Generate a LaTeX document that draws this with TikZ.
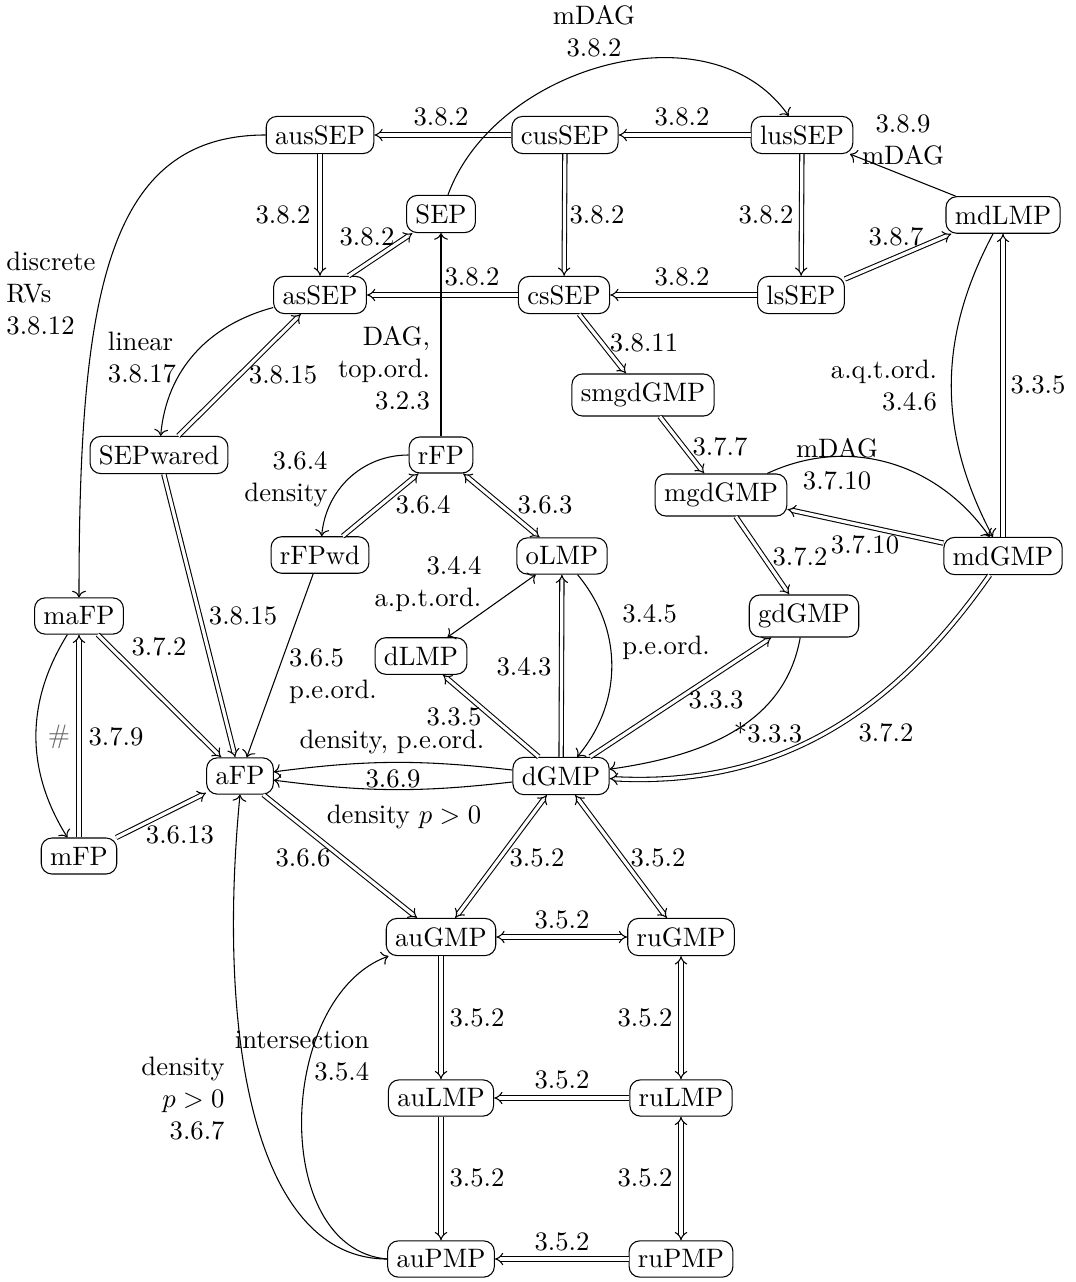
\documentclass[tikz,border=0pt]{standalone}
\usetikzlibrary{arrows.meta}
\begin{document}
\begin{tikzpicture}[x=0.375pt,y=0.375pt,
  box/.style={draw, rounded corners=4pt, inner sep=3.33pt},
  imp/.style={double, double distance=1.2pt, -Implies},
  impb/.style={double, double distance=1.2pt, Implies-Implies},
  lbl/.style={inner sep=0pt}]
\useasboundingbox (0,0) rectangle (1075,-1282);
% nodes
\node[box] (ausSEP) at (320,-135) {ausSEP};
\node[box] (cusSEP) at (565,-135) {cusSEP};
\node[box] (lusSEP) at (802,-135) {lusSEP};
\node[box] (SEP) at (441,-214) {SEP};
\node[box] (mdLMP) at (1003,-215) {mdLMP};
\node[box] (asSEP) at (320,-295) {asSEP};
\node[box] (csSEP) at (564,-295) {csSEP};
\node[box] (lsSEP) at (801,-295) {lsSEP};
\node[box] (smgdGMP) at (643,-395) {smgdGMP};
\node[box] (SEPwared) at (159,-455) {SEPwared};
\node[box] (rFP) at (441,-455) {rFP};
\node[box] (mgdGMP) at (721,-495) {mgdGMP};
\node[box] (rFPwd) at (320,-555) {rFPwd};
\node[box] (oLMP) at (562,-556) {oLMP};
\node[box] (mdGMP) at (1003,-556) {mdGMP};
\node[box] (maFP) at (79,-616) {maFP};
\node[box] (gdGMP) at (804,-616) {gdGMP};
\node[box] (dLMP) at (421,-656) {dLMP};
\node[box] (aFP) at (240,-776) {aFP};
\node[box] (dGMP) at (561,-776) {dGMP};
\node[box] (mFP) at (79,-856) {mFP};
\node[box] (auGMP) at (441,-937) {auGMP};
\node[box] (ruGMP) at (681,-937) {ruGMP};
\node[box] (auLMP) at (441,-1098) {auLMP};
\node[box] (ruLMP) at (681,-1098) {ruLMP};
\node[box] (auPMP) at (441,-1259) {auPMP};
\node[box] (ruPMP) at (681,-1259) {ruPMP};
% connectors
\draw[imp] (cusSEP) -- (ausSEP);
\draw[imp] (lusSEP) -- (cusSEP);
\draw[imp] (ausSEP) -- (asSEP);
\draw[imp] (cusSEP) -- (csSEP);
\draw[imp] (lusSEP) -- (lsSEP);
\draw[imp] (csSEP) -- (asSEP);
\draw[imp] (lsSEP) -- (csSEP);
\draw[imp] (asSEP) -- (SEP);
\draw[->] (rFP) -- (SEP);
\draw[->] (SEP) to[out=70,in=125] (lusSEP);
\draw[->] (mdLMP) -- (lusSEP);
\draw[imp] (lsSEP.20) -- (mdLMP.200);
\draw[imp] (mdGMP) -- (mdLMP);
\draw[->] (mdLMP) to[bend right=28] (mdGMP);
\draw[imp] (csSEP) -- (smgdGMP);
\draw[imp] (smgdGMP) -- (mgdGMP);
\draw[->] (mgdGMP) to[out=25,in=125] (mdGMP);
\draw[imp] (mdGMP) -- (mgdGMP);
\draw[imp] (mgdGMP) -- (gdGMP);
\draw[imp] (mdGMP) to[out=-125,in=-3] (dGMP);
\draw[imp] (dGMP) -- (gdGMP);
\draw[->] (gdGMP) to[out=-100,in=8] (dGMP);
\draw[imp] (dGMP) -- (oLMP);
\draw[->] (oLMP) to[bend left=40] (dGMP);
\draw[imp] (dGMP) -- (dLMP);
\draw[<->] (oLMP) -- (dLMP);
\draw[impb] (rFP) -- (oLMP);
\draw[imp] (rFPwd) -- (rFP);
\draw[->] (rFP) to[out=180,in=85] (rFPwd);
\draw[->] (rFPwd) -- (aFP);
\draw[imp] (SEPwared) -- (aFP);
\draw[imp] (SEPwared) -- (asSEP);
\draw[->] (asSEP) to[out=195,in=85] (SEPwared);
\draw[->] (ausSEP.west) .. controls +(-160,0) and +(0,300) .. (maFP.north);
\draw[imp] (maFP) -- (aFP);
\draw[imp] (mFP) -- (maFP);
\draw[->] (maFP) to[bend right=32] (mFP);
\draw[imp] (mFP) -- (aFP);
\draw[->] (dGMP) to[bend right=7] (aFP);
\draw[->] (dGMP) to[bend left=7] (aFP);
\draw[imp] (aFP) -- (auGMP);
\draw[impb] (dGMP) -- (auGMP);
\draw[impb] (dGMP) -- (ruGMP);
\draw[impb] (auGMP) -- (ruGMP);
\draw[imp] (auGMP) -- (auLMP);
\draw[impb] (ruGMP) -- (ruLMP);
\draw[imp] (ruLMP) -- (auLMP);
\draw[imp] (auLMP) -- (auPMP);
\draw[impb] (ruLMP) -- (ruPMP);
\draw[imp] (ruPMP) -- (auPMP);
\draw[->] (auPMP.west) to[out=175,in=200] (auGMP);
\draw[->] (auPMP.west) .. controls +(-130,0) and +(-24,-250) .. (aFP.south);
% labels
\node[lbl,align=center] (l1) at (594,-31) {mDAG\\3.8.2};
\node[lbl] (l2) at (441,-117) {3.8.2};
\node[lbl] (l3) at (682,-117) {3.8.2};
\node[lbl,align=center] (l4) at (903,-140) {3.8.9\\mDAG};
\node[lbl] (l5) at (283,-215) {3.8.2};
\node[lbl] (l6) at (597,-215) {3.8.2};
\node[lbl] (l7) at (766,-215) {3.8.2};
\node[lbl] (l8) at (367,-237) {3.8.2};
\node[lbl] (l9) at (896,-237) {3.8.7};
\node[lbl] (l10) at (472,-277) {3.8.2};
\node[lbl] (l11) at (682,-277) {3.8.2};
\node[lbl,align=left] (l12) at (51,-294) {discrete\\RVs\\3.8.12};
\node[lbl,align=left] (l13) at (142,-358) {linear\\3.8.17};
\node[lbl] (l14) at (283,-375) {3.8.15};
\node[lbl,align=right] (l15) at (384,-368) {DAG,\\top.ord.\\3.2.3};
\node[lbl] (l16) at (644,-343) {3.8.11};
\node[lbl,align=right] (l17) at (884,-386) {a.q.t.ord.\\3.4.6};
\node[lbl] (l18) at (1038,-385) {3.3.5};
\node[lbl] (l19) at (720,-447) {3.7.7};
\node[lbl,align=center] (l20) at (837,-464) {mDAG\\3.7.10};
\node[lbl,align=right] (l21) at (286,-479) {3.6.4\\density};
\node[lbl] (l22) at (423,-505) {3.6.4};
\node[lbl] (l23) at (545,-505) {3.6.3};
\node[lbl] (l24) at (865,-545) {3.7.10};
\node[lbl] (l25) at (800,-557) {3.7.2};
\node[lbl,align=right] (l26) at (428,-584) {3.4.4\\a.p.t.ord.};
\node[lbl] (l27) at (243,-616) {3.8.15};
\node[lbl,align=left] (l28) at (666,-632) {3.4.5\\p.e.ord.};
\node[lbl] (l29) at (159,-647) {3.7.2};
\node[lbl] (l30) at (524,-667) {3.4.3};
\node[lbl,align=left] (l31) at (333,-676) {3.6.5\\p.e.ord.};
\node[lbl] (l32) at (716,-700) {3.3.3};
\node[lbl] (l33) at (454,-717) {3.3.5};
\node[lbl] (l34) at (886,-733) {3.7.2};
\node[lbl] (l35) at (768,-733) {*3.3.3};
\node[lbl,text=black!60] (l36) at (59,-737) {\#};
\node[lbl] (l37) at (116,-737) {3.7.9};
\node[lbl] (l38) at (392,-742) {density, p.e.ord.};
\node[lbl] (l39) at (393,-779) {3.6.9};
\node[lbl] (l40) at (404,-817) {density $p>0$};
\node[lbl] (l41) at (180,-835) {3.6.13};
\node[lbl] (l42) at (303,-858) {3.6.6};
\node[lbl] (l43) at (537,-858) {3.5.2};
\node[lbl] (l44) at (658,-858) {3.5.2};
\node[lbl] (l45) at (562,-920) {3.5.2};
\node[lbl] (l46) at (477,-1018) {3.5.2};
\node[lbl] (l47) at (645,-1018) {3.5.2};
\node[lbl,align=right] (l48) at (302,-1056) {intersection\\3.5.4};
\node[lbl,align=right] (l49) at (183,-1099) {density\\$p>0$\\3.6.7};
\node[lbl] (l50) at (562,-1080) {3.5.2};
\node[lbl] (l51) at (477,-1178) {3.5.2};
\node[lbl] (l52) at (645,-1178) {3.5.2};
\node[lbl] (l53) at (562,-1242) {3.5.2};
\end{tikzpicture}
\end{document}
